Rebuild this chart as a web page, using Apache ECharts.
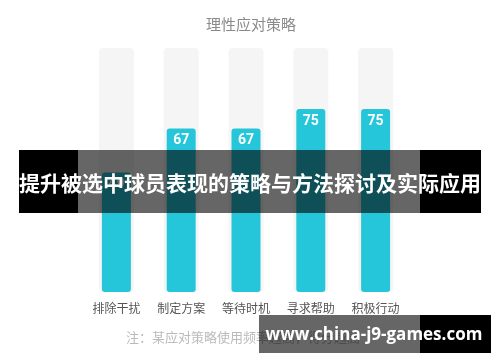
<!DOCTYPE html>
<html>
<head>
<meta charset="utf-8">
<script src="https://cdn.jsdelivr.net/npm/echarts@6/dist/echarts.min.js"></script>
<style>html,body{margin:0;padding:0;background:#fff}#c{width:500px;height:362px}</style>
</head>
<body>
<div id="c"></div>
<script>
var categories = ['排除干扰', '制定方案', '等待时机', '寻求帮助', '积极行动'];
var values = [49, 67, 67, 75, 75];
var maxValue = 100;
var titleText = '理性应对策略';
var noteText = '注：某应对策略使用频率越高，得分越高';
var bannerText = '提升被选中球员表现的策略与方法探讨及实际应用';
var watermarkText = 'www.china-j9-games.com';

var bgValues = categories.map(function () { return maxValue; });
var FONT = '"Noto Sans CJK SC", "Noto Sans", sans-serif';

var chart = echarts.init(document.getElementById('c'), null, {renderer: 'canvas'});
chart.setOption({
  animation: false,
  title: {
    text: titleText, left: 246, top: 12, textAlign: 'center',
    textStyle: {color: '#8a8a8a', fontSize: 15, fontWeight: 'normal', fontFamily: FONT}
  },
  grid: {left: 84, right: 92, top: 48, bottom: 70},
  xAxis: [
    {type: 'category', data: categories, axisLine: {show: false}, axisTick: {show: false},
     axisLabel: {color: '#555', fontSize: 12, margin: 10, fontFamily: FONT}},
    {type: 'category', data: categories, show: false}
  ],
  yAxis: {type: 'value', min: 0, max: maxValue, show: false},
  series: [
    {type: 'bar', xAxisIndex: 1, data: bgValues, barWidth: 35, silent: true,
     itemStyle: {color: '#f5f5f5', borderRadius: 4}, z: 1},
    {type: 'bar', xAxisIndex: 0, data: values, barWidth: 29,
     itemStyle: {color: '#26c6da', borderRadius: 3}, z: 2,
     label: {show: true, position: 'insideTop', distance: 5, color: '#fff',
             fontSize: 14, fontWeight: 'bold', fontFamily: 'Roboto, sans-serif'}}
  ],
  graphic: [
    {type: 'text', z: 50, x: 126, y: 337,
     style: {text: noteText, fill: '#bbbbbb', font: '13px ' + FONT, textAlign: 'left', textVerticalAlign: 'middle'}},
    {type: 'rect', z: 100, shape: {x: 19, y: 150, width: 59, height: 63}, style: {fill: '#000'}},
    {type: 'rect', z: 100, shape: {x: 78, y: 150, width: 342, height: 63}, style: {fill: 'rgba(0,0,0,0.6)'}},
    {type: 'rect', z: 100, shape: {x: 420, y: 150, width: 61, height: 63}, style: {fill: '#000'}},
    {type: 'text', z: 101, x: 250, y: 183,
     style: {text: bannerText, fill: '#fff', font: 'bold 21px ' + FONT, textAlign: 'center', textVerticalAlign: 'middle'}},
    {type: 'rect', z: 100, shape: {x: 259, y: 315, width: 161, height: 38}, style: {fill: 'rgba(0,0,0,0.6)'}},
    {type: 'rect', z: 100, shape: {x: 420, y: 315, width: 71, height: 38}, style: {fill: '#000'}},
    {type: 'text', z: 101, x: 374, y: 335,
     style: {text: watermarkText, fill: '#fff', font: 'bold 17px "Open Sans", sans-serif', textAlign: 'center', textVerticalAlign: 'middle'}}
  ]
});
</script>
</body>
</html>
